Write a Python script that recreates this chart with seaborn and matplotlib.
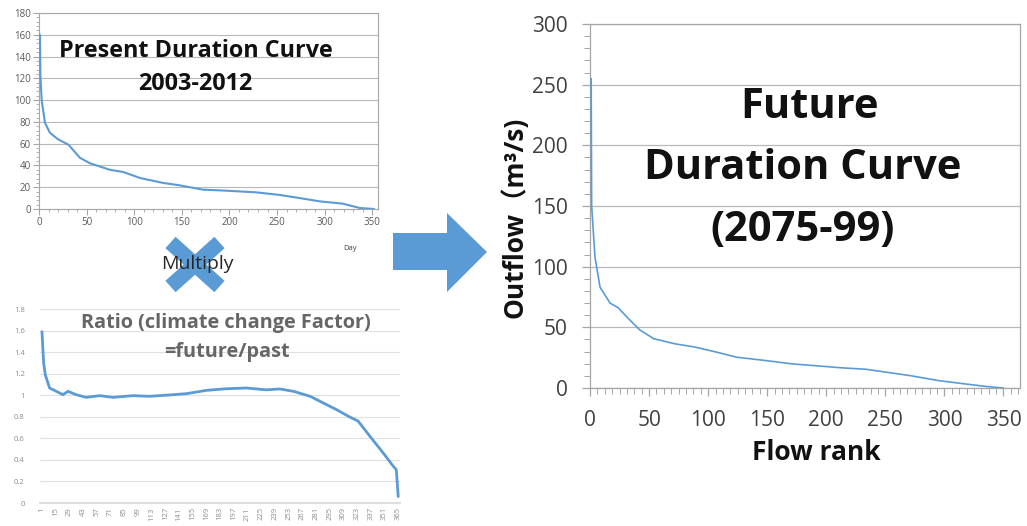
import matplotlib
matplotlib.use("Agg")
import matplotlib.pyplot as plt
from matplotlib.patches import Polygon
from matplotlib.ticker import MultipleLocator
import numpy as np
import pandas as pd
import seaborn as sns

# ---------------- data ----------------
present_day = [1, 1.5, 2.8, 6.3, 11.5, 20, 31, 43, 53.5, 74.5, 88.5, 106, 130, 148, 172, 197, 228, 252, 274, 295, 319, 337, 352]
present_flow = [160, 122, 100, 79, 70, 64, 59, 47, 42, 36, 34, 28.5, 24, 21.7, 17.8, 16.8, 15.3, 13, 10, 7, 4.9, 0.9, 0]

ratio_day = [1, 2.7, 4.4, 8.8, 15.7, 22.5, 27.6, 36, 46, 60, 73.6, 94, 111, 128, 149, 169, 189, 210, 230, 244, 258, 275, 288, 302, 315, 324, 336, 350, 360, 363, 365]
ratio_val = [1.59, 1.30, 1.19, 1.067, 1.036, 1.005, 1.036, 1.005, 0.98, 0.996, 0.98, 0.996, 0.99, 1.0, 1.015, 1.045, 1.06, 1.067, 1.05, 1.058, 1.036, 0.99, 0.93, 0.866, 0.80, 0.76, 0.62, 0.46, 0.34, 0.31, 0.06]
ratio_ticks = list(range(1, 366, 14))

future_rank = [1, 1.4, 4.2, 8.5, 17, 24, 32, 42, 54, 71.5, 89, 107, 124, 148, 171, 189, 215, 233, 251, 271, 295, 318, 336, 350]
future_flow = [255, 150, 108, 83, 70, 66, 57.7, 48, 40.6, 36.5, 33.7, 29.6, 25.4, 22.7, 19.9, 18.5, 16.5, 15.5, 13, 10.2, 6.1, 3.3, 1.2, 0]

present_df = pd.DataFrame({"day": present_day, "flow": present_flow})
ratio_df = pd.DataFrame({"day": ratio_day, "ratio": ratio_val})
future_df = pd.DataFrame({"rank": future_rank, "flow": future_flow})

# ---------------- style ----------------
sns.set_theme(style="white")
plt.rcParams["font.family"] = ["Open Sans", "Noto Sans CJK JP", "DejaVu Sans"]

BLUE = "#5b9bd5"
W, H = 1027, 526
fig = plt.figure(figsize=(W / 100, H / 100), dpi=100)


def px_axes(left, top, right, bottom):
    return fig.add_axes([left / W, 1 - bottom / H, (right - left) / W, (bottom - top) / H])


def ftext(x, y, s, **kw):
    fig.text(x / W, 1 - y / H, s, ha="center", va="center", **kw)


# ---------------- present duration curve ----------------
ax1 = px_axes(39, 13, 378, 209)
sns.lineplot(data=present_df, x="day", y="flow", ax=ax1, color=BLUE, lw=1.5, zorder=3)
ax1.set_xlim(0, 356)
ax1.set_ylim(0, 180)
ax1.xaxis.set_major_locator(MultipleLocator(50))
ax1.xaxis.set_minor_locator(MultipleLocator(10))
ax1.yaxis.set_major_locator(MultipleLocator(20))
ax1.yaxis.set_minor_locator(MultipleLocator(4))
ax1.grid(axis="y", color="#b8b8b8", lw=0.8)
ax1.set_axisbelow(True)
for sp in ax1.spines.values():
    sp.set_color("#a6a6a6")
    sp.set_linewidth(0.8)
ax1.tick_params(axis="both", which="both", direction="out", colors="#a6a6a6", labelcolor="#595959", labelsize=7)
ax1.tick_params(axis="both", which="major", length=4, width=0.8, bottom=True, left=True, pad=2)
ax1.tick_params(axis="both", which="minor", length=2, width=0.6, bottom=True, left=True)
ax1.set_xlabel("")
ax1.set_ylabel("")
ftext(196, 51, "Present Duration Curve", fontsize=16.8, fontweight="bold", color="#111111")
ftext(195, 84, "2003-2012", fontsize=16.8, fontweight="bold", color="#111111")

# ---------------- ratio curve ----------------
ax2 = px_axes(40, 309, 400, 503)
sns.lineplot(data=ratio_df, x="day", y="ratio", ax=ax2, color=BLUE, lw=2.0)
ax2.set_xlim(-1.0, 366.8)
ax2.set_ylim(0, 1.8)
ax2.set_yticks(np.arange(0, 1.81, 0.2))
ax2.set_yticklabels(["0", "0.2", "0.4", "0.6", "0.8", "1", "1.2", "1.4", "1.6", "1.8"])
ax2.set_xticks(ratio_ticks)
ax2.set_xticklabels([str(t) for t in ratio_ticks], rotation=90)
ax2.grid(axis="y", color="#e0e0e0", lw=0.8)
ax2.set_axisbelow(True)
for k in ["top", "right", "left"]:
    ax2.spines[k].set_visible(False)
ax2.spines["bottom"].set_color("#d9d9d9")
ax2.tick_params(axis="both", which="both", length=0, labelcolor="#8c8c8c", labelsize=5.5, pad=3)
ax2.tick_params(axis="y", pad=11)
ax2.set_xlabel("")
ax2.set_ylabel("")
ftext(226, 323, "Ratio (climate change Factor)", fontsize=14.3, fontweight="bold", color="#666666")
ftext(227, 352, "=future/past", fontsize=14.3, fontweight="bold", color="#666666")

# ---------------- future duration curve ----------------
ax3 = px_axes(590, 24, 1020, 388)
sns.lineplot(data=future_df, x="rank", y="flow", ax=ax3, color=BLUE, lw=1.2, zorder=3)
ax3.set_xlim(0, 364)
ax3.set_ylim(0, 300)
ax3.xaxis.set_major_locator(MultipleLocator(50))
ax3.xaxis.set_minor_locator(MultipleLocator(6.25))
ax3.yaxis.set_major_locator(MultipleLocator(50))
ax3.yaxis.set_minor_locator(MultipleLocator(10))
ax3.grid(axis="y", color="#b8b8b8", lw=0.9)
ax3.set_axisbelow(True)
for sp in ax3.spines.values():
    sp.set_color("#a6a6a6")
    sp.set_linewidth(0.9)
ax3.tick_params(axis="both", which="both", direction="out", colors="#a6a6a6", labelcolor="#404040", labelsize=15)
ax3.tick_params(axis="both", which="major", length=6, width=0.9, bottom=True, left=True, pad=10)
ax3.tick_params(axis="both", which="minor", length=4.5, width=0.7, bottom=True, left=True)
ax3.set_xlabel("")
ax3.set_ylabel("")
ftext(809, 107, "Future", fontsize=30, fontweight="bold", color="#111111")
ftext(803, 168, "Duration Curve", fontsize=30, fontweight="bold", color="#111111")
ftext(803, 231, "(2075-99)", fontsize=30, fontweight="bold", color="#111111")
ftext(816, 452, "Flow rank", fontsize=19, fontweight="bold", color="#111111")
ftext(515, 217, "Outflow（m³/s)", fontsize=19, fontweight="bold", color="#111111", rotation=90)

# ---------------- decorations: multiply cross, arrow ----------------
ov = fig.add_axes([0, 0, 1, 1], zorder=5)
ov.set_xlim(0, W)
ov.set_ylim(H, 0)
ov.axis("off")
ov.patch.set_alpha(0)
ov.plot([170.5, 219.5], [242.5, 286.5], color=BLUE, lw=11, solid_capstyle="butt")
ov.plot([219.5, 170.5], [242.5, 286.5], color=BLUE, lw=11, solid_capstyle="butt")
ov.text(197, 264, "Multiply", ha="center", va="center", fontsize=14, color="#262626")
ov.text(350, 249, "Day", ha="center", va="center", fontsize=5.5, color="#404040")
ov.add_patch(Polygon([(393, 233), (447, 233), (447, 213), (487, 252), (447, 292), (447, 270), (393, 270)],
                     closed=True, facecolor=BLUE, edgecolor="none"))

fig.savefig("out.png", dpi=100)
